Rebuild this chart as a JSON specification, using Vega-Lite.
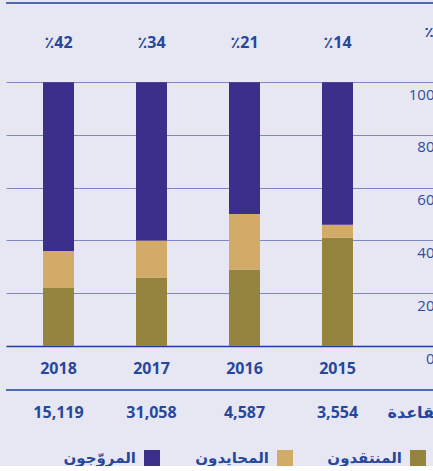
{
  "$schema": "https://vega.github.io/schema/vega-lite/v6.json",
  "background": "#e7e7f3",
  "padding": {"left": 5, "top": 2, "right": 0, "bottom": 0},
  "width": 477,
  "height": 343,
  "config": {"view": {"stroke": null}},
  "datasets": {
    "shares": [
      {"year": "2018", "group": "المنتقدون", "pct": 22},
      {"year": "2018", "group": "المحايدون", "pct": 14},
      {"year": "2018", "group": "المروّجون", "pct": 64},
      {"year": "2017", "group": "المنتقدون", "pct": 26},
      {"year": "2017", "group": "المحايدون", "pct": 14},
      {"year": "2017", "group": "المروّجون", "pct": 60},
      {"year": "2016", "group": "المنتقدون", "pct": 29},
      {"year": "2016", "group": "المحايدون", "pct": 21},
      {"year": "2016", "group": "المروّجون", "pct": 50},
      {"year": "2015", "group": "المنتقدون", "pct": 41},
      {"year": "2015", "group": "المحايدون", "pct": 5},
      {"year": "2015", "group": "المروّجون", "pct": 54}
    ],
    "years": [
      {"year": "2018", "nps": "٪42", "count": "15,119"},
      {"year": "2017", "nps": "٪34", "count": "31,058"},
      {"year": "2016", "nps": "٪21", "count": "4,587"},
      {"year": "2015", "nps": "٪14", "count": "3,554"}
    ],
    "base": [
      {"year": " ", "label": "القاعدة"}
    ],
    "one": [{}]
  },
  "layer": [
    {
      "data": {"name": "shares"},
      "transform": [
        {"calculate": "indexof(['المنتقدون','المحايدون','المروّجون'], datum.group)", "as": "o"}
      ],
      "mark": {"type": "bar", "strokeWidth": 0},
      "encoding": {
        "x": {
          "field": "year",
          "type": "nominal",
          "sort": null,
          "scale": {"domain": ["2018", "2017", "2016", "2015", " "], "paddingInner": 0.6667, "paddingOuter": 0.398},
          "axis": {
            "title": null,
            "orient": "bottom",
            "domain": true,
            "domainColor": "#1d3f99",
            "domainWidth": 1.5,
            "ticks": false,
            "tickSize": 0,
            "grid": false,
            "labelAngle": 0,
            "labelPadding": 22,
            "labelBaseline": "middle",
            "labelFont": "Open Sans",
            "labelFontWeight": "bold",
            "labelFontSize": 16,
            "labelColor": "#27479b"
          }
        },
        "y": {
          "field": "pct",
          "type": "quantitative",
          "stack": "zero",
          "scale": {"domain": [0, 130], "nice": false, "zero": true},
          "axis": {
            "orient": "right",
            "offset": -49,
            "values": [0, 20, 40, 60, 80, 100],
            "grid": true,
            "gridColor": "#7f87c7",
            "gridWidth": 1,
            "domain": false,
            "ticks": false,
            "tickSize": 0,
            "labelPadding": 0,
            "labelAlign": "right",
            "labelBaseline": "middle",
            "labelOffset": 12,
            "labelFont": "Open Sans",
            "labelFontSize": 15,
            "labelColor": "#2d4d9f",
            "title": "٪",
            "titleAngle": 0,
            "titleX": -5.5,
            "titleY": 28.5,
            "titleAlign": "center",
            "titleBaseline": "middle",
            "titleFont": "DejaVu Sans",
            "titleFontSize": 15,
            "titleFontWeight": "bold",
            "titleColor": "#27479b"
          }
        },
        "color": {
          "field": "group",
          "type": "nominal",
          "scale": {
            "domain": ["المروّجون", "المحايدون", "المنتقدون"],
            "range": ["#3a2f8a", "#d3ab69", "#94843d"]
          },
          "legend": {
            "title": null,
            "orient": "none",
            "legendX": 138,
            "legendY": 447,
            "direction": "horizontal",
            "gridAlign": "all",
            "symbolType": "square",
            "symbolSize": 256,
            "symbolStrokeWidth": 0,
            "symbolOpacity": 1,
            "labelAlign": "right",
            "labelOffset": -24,
            "columnPadding": 34,
            "labelFont": "DejaVu Sans",
            "labelFontWeight": "bold",
            "labelFontSize": 15,
            "labelColor": "#27479b",
            "labelLimit": 0
          }
        },
        "order": {"field": "o", "type": "quantitative", "sort": "ascending"}
      }
    },
    {
      "data": {"name": "years"},
      "mark": {"type": "text", "font": "Open Sans, DejaVu Sans", "fontWeight": "bold", "fontSize": 16, "color": "#27479b", "baseline": "middle", "align": "center"},
      "encoding": {
        "x": {"field": "year", "type": "nominal", "sort": null},
        "y": {"datum": 115},
        "text": {"field": "nps"}
      }
    },
    {
      "data": {"name": "years"},
      "mark": {"type": "text", "font": "Open Sans", "fontWeight": "bold", "fontSize": 16, "color": "#27479b", "baseline": "middle", "align": "center"},
      "encoding": {
        "x": {"field": "year", "type": "nominal", "sort": null},
        "y": {"datum": -25.5},
        "text": {"field": "count"}
      }
    },
    {
      "data": {"name": "base"},
      "mark": {"type": "text", "font": "DejaVu Sans", "fontWeight": "bold", "fontSize": 16, "color": "#27479b", "baseline": "middle", "align": "left", "dx": -43},
      "encoding": {
        "x": {"field": "year", "type": "nominal", "sort": null},
        "y": {"datum": -25.5},
        "text": {"field": "label"}
      }
    },
    {
      "data": {"name": "one"},
      "mark": {"type": "rule", "color": "#1d3f99", "strokeWidth": 1.5},
      "encoding": {"y": {"datum": 130}}
    },
    {
      "data": {"name": "one"},
      "mark": {"type": "rule", "color": "#1d3f99", "strokeWidth": 1.5},
      "encoding": {"y": {"datum": -16.7}}
    }
  ]
}
